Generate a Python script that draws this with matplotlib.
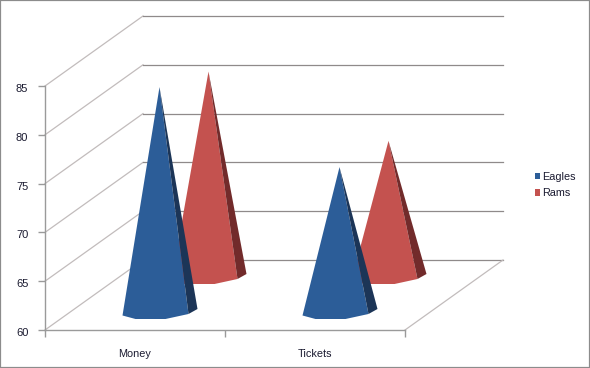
import matplotlib.pyplot as plt
from matplotlib.patches import Polygon, Rectangle
from matplotlib.transforms import ScaledTranslation

plt.rcParams['font.family'] = ['Liberation Sans', 'DejaVu Sans']

categories = ['Money', 'Tickets']
series_names = ['Eagles', 'Rams']
eagles = [83.1, 74.9]
rams = [81.1, 74.0]
value_ticks = [60, 65, 70, 75, 80, 85]

W, H = 590, 368
fig = plt.figure(figsize=(W / 100, H / 100), dpi=100)
fig.patch.set_facecolor('white')
fig.add_artist(Rectangle((0, 0), 1, 1, transform=fig.transFigure, fill=False,
                         edgecolor='#8c8c8c', linewidth=1.6))

# front plane of the fake 3d box
ax = fig.add_axes([45 / W, (H - 330) / H, 360 / W, 244 / H])
ax.set_xlim(0, 2)
ax.set_ylim(60, 85)
ax.patch.set_alpha(0)

# pixels to data units
px_x = 2 / 360
px_y = 25 / 244
depth_x = 98 * px_x
depth_y = 70 * px_y
x_right = 2 + depth_x

for v in value_ticks:
    ax.plot([0, depth_x], [v, v + depth_y], color='#c2bcbc', lw=0.9, clip_on=False, zorder=1)
    ax.plot([depth_x, x_right], [v + depth_y, v + depth_y], color='#8f8a8a', lw=0.9,
            clip_on=False, zorder=1)
ax.plot([2, x_right], [60, 60 + depth_y], color='#c2bcbc', lw=0.9, clip_on=False, zorder=1)


def draw_cone(center, depth, value, color, dark):
    cx = center + depth * depth_x
    base = 60 + depth * depth_y
    apex = (cx, value + depth * depth_y)
    # outline of the base, offsets in pixels from the base centre
    front = [(-37, 3), (-24, 6.5), (6, 6.5), (29, 1.5)]
    pts = [(cx + a * px_x, base - b * px_y) for a, b in front]
    side_end = (cx + 38 * px_x, base + 3.5 * px_y)
    ax.add_patch(Polygon([apex] + pts, closed=True, facecolor=color, edgecolor='none',
                         clip_on=False, zorder=3))
    ax.add_patch(Polygon([apex, pts[-1], side_end], closed=True, facecolor=dark,
                         edgecolor='none', clip_on=False, zorder=3))


for i, center in enumerate([0.5, 1.5]):
    draw_cone(center, 0.75, rams[i], '#c4524f', '#722b2b')
for i, center in enumerate([0.5, 1.5]):
    draw_cone(center, 0.25, eagles[i], '#2c5d98', '#1c3557')

for name in ['top', 'right']:
    ax.spines[name].set_visible(False)
for name in ['left', 'bottom']:
    ax.spines[name].set_color('#9a9a9a')
    ax.spines[name].set_linewidth(1)

ax.set_yticks(value_ticks)
ax.tick_params(axis='y', length=5, width=1, color='#9a9a9a', labelsize=8, pad=7,
               labelcolor='#1a1a30')
# tick labels sit a little under their ticks in the original
shift = ScaledTranslation(0, -2 / 100, fig.dpi_scale_trans)
for label in ax.get_yticklabels():
    label.set_transform(label.get_transform() + shift)
ax.set_xticks([0, 1, 2])
ax.set_xticklabels([])
ax.set_xticks([0.5, 1.5], minor=True)
ax.set_xticklabels(categories, minor=True)
ax.tick_params(axis='x', which='major', length=5, width=1, color='#9a9a9a')
ax.tick_params(axis='x', which='minor', length=0, labelsize=7.8, pad=14, labelcolor='#1a1a30')

handles = [Rectangle((0, 0), 1, 1, facecolor='#2c5d98'), Rectangle((0, 0), 1, 1, facecolor='#c4524f')]
fig.legend(handles, series_names, loc='center left', bbox_to_anchor=(525 / W, (H - 185) / H),
           frameon=False, fontsize=7.8, handlelength=0.5, handleheight=0.5, handletextpad=0.22,
           labelspacing=0.62, labelcolor='#1a1a30')

fig.savefig('out.png', dpi=100)
